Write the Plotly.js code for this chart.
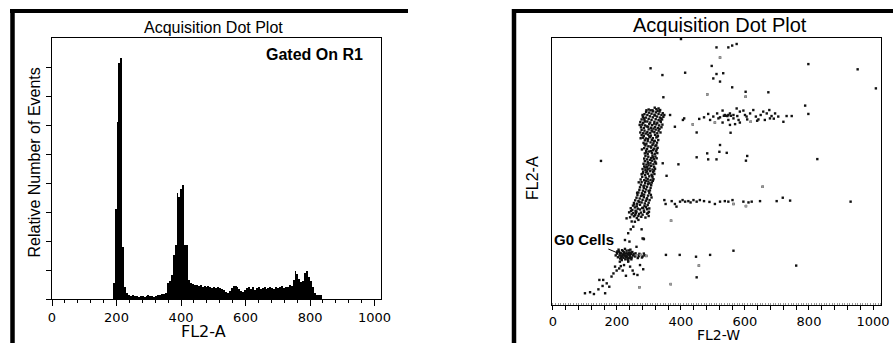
<!DOCTYPE html>
<html><head><meta charset="utf-8">
<script src="https://cdn.plot.ly/plotly-3.0.1.min.js"></script>
<style>html,body{margin:0;padding:0;background:#fff}#chart{width:893px;height:343px}</style>
</head><body><div id="chart"></div>
<script>
// ---------- Left panel: FL2-A histogram ----------
const binCenters = [191,197,203,209,215,221,227,233,239,245,251,257,263,269,275,281,287,293,299,305,
  311,317,323,329,335,341,347,353,359,365,371,377,383,389,395,401,407,413,419,425,
  431,437,443,449,455,461,467,473,479,485,491,497,503,509,515,521,527,533,539,545,
  551,557,563,569,575,581,587,593,599,605,611,617,623,629,635,641,647,653,659,665,
  671,677,683,689,695,701,707,713,719,725,731,737,743,749,755,761,767,773,779,785,
  791,797,803,809,815,821,827,833];
const binCounts = [55,310,611,814,831,179,41,21,14,10,14,10,10,7,10,10,7,10,14,10,
  10,7,10,14,14,17,17,21,55,62,83,152,186,366,352,380,393,186,186,66,
  55,52,48,48,45,48,41,45,41,45,41,38,41,38,41,38,35,31,24,21,
  28,38,45,45,41,35,28,24,31,38,41,35,41,31,38,41,35,38,41,35,
  38,41,38,35,41,38,41,45,38,41,41,48,45,66,97,86,69,59,62,90,
  97,76,62,41,21,14,14,14];
const histXTicks = [0,200,400,600,800,1000];
const histYTicks = [0,100,200,300,400,500,600,700,800];

// ---------- Right panel: FL2-W vs FL2-A dot plot ----------
const g0Cluster = [[196,190],[200,197],[203,183],[206,205],[208,190],[210,178],[212,198],[214,186],[216,210],[218,194],
  [220,181],[222,202],[224,189],[226,175],[228,197],[230,208],[232,185],[234,193],[236,179],[238,200],
  [240,188],[242,212],[244,195],[246,182],[248,203],[250,190],[205,212],[215,172],[225,215],[235,170],
  [245,175],[211,190],[221,193],[231,198],[241,180],[201,205],[219,206],[229,187],[239,194],[209,200],
  [227,183],[237,209],[213,181],[223,197],[233,176],[243,201],[217,188],[252,195],[256,186],[262,190],
  [268,187],[274,192],[280,186],[286,190],[292,188],[258,198],[270,196],[284,197],[265,180],[278,182]];
const cycleBand = [[241,336],[253,340],[262,333],[276,338],[289,335],[299,341],
  [246,347],[257,344],[269,349],[280,346],[294,350],
  [238,355],[251,352],[261,358],[275,354],[285,357],[297,353],
  [248,364],[258,361],[272,366],[284,362],[294,367],
  [243,371],[256,374],[265,369],[279,372],[291,375],[301,370],
  [250,381],[262,378],[272,384],[286,380],[296,383],
  [253,391],[263,388],[277,393],[287,389],[299,392],
  [257,401],[267,398],[280,403],[290,399],[302,402],
  [261,411],[271,408],[284,413],[294,409],
  [264,421],[275,418],[285,423],[297,419],[306,422],
  [267,431],[278,428],[288,433],[301,429],
  [270,441],[281,438],[291,443],[303,439],
  [272,451],[284,448],[294,453],[305,449],
  [275,461],[286,458],[297,463],[307,459],
  [277,471],[288,468],[298,473],[309,469],
  [274,481],[285,478],[296,483],[305,479],[314,482],
  [279,491],[290,488],[301,493],[311,489],
  [277,501],[288,498],[297,503],[308,499],[317,502],
  [282,511],[291,508],[304,513],[313,509],
  [280,521],[289,518],[302,523],[311,519],[319,522],
  [285,531],[294,528],[307,533],[316,529],
  [283,541],[292,538],[305,543],[314,539],[322,542],
  [287,551],[296,548],[309,553],[318,549],
  [285,561],[294,558],[307,563],[316,559],[324,562],
  [289,571],[298,568],[311,573],[320,569],
  [287,581],[296,578],[309,583],[318,579],[326,582],
  [291,591],[300,588],[313,593],[322,589],
  [285,601],[294,598],[307,603],[316,599],[327,602],
  [289,611],[298,608],[311,613],[320,609],
  [283,621],[292,618],[305,623],[314,619],[325,622],
  [287,631],[296,628],[309,633],[318,629],[329,632],
  [281,641],[290,638],[303,643],[312,639],[323,642],
  [277,651],[284,648],[297,653],[306,649],[319,652],[328,648],
  [273,661],[282,658],[295,663],[304,659],[317,662],[326,658],[336,661],
  [277,671],[286,668],[299,673],[308,669],[321,672],[330,668],
  [275,681],[284,678],[297,683],[306,679],[319,682],[328,678],[339,681],
  [279,691],[288,688],[301,693],[310,689],[323,692],[332,688],[342,691],
  [273,701],[282,698],[295,703],[304,699],[317,702],[326,698],[337,701],
  [277,711],[286,708],[299,713],[308,709],[321,712],[330,708],[341,711],
  [281,721],[290,718],[303,723],[312,719],[325,722],[334,718],[345,721],
  [286,731],[295,728],[308,733],[317,729],[330,732],[339,728],
  [291,740],[300,737],[313,742],[322,738],[333,741],
  [299,749],[311,746],[323,750],[335,747]];
const bandExtra = [[259,352],[267,341],[282,372],[270,395],[293,405],[279,420],[299,437],[283,455],[302,466],
  [291,476],[310,495],[294,512],[316,515],[299,535],[320,548],[303,556],[312,566],[292,585],[324,596],
  [305,607],[315,627],[297,636],[326,645],[290,657],[311,665],[333,675],[293,684],[316,695],[336,706],
  [284,715],[319,726],[343,735],[305,746],[327,744],[338,715],[288,703],[314,676],[301,646],[286,616],
  [306,590],[298,543],[288,527],[281,505],[312,476],[268,470],[263,430],[254,385],[244,360],[300,357],
  [308,412],[274,639],[271,690],[348,728],[330,753],[318,756],[292,746],[280,728],[323,612],[278,596],[296,520]];
const betweenPts = [[225,249],[235,275],[243,290],[251,300],[256,319],[267,326],[230,332],[246,320],
  [280,255],[277,290],[261,223],[239,243],[284,253]];
const lowDiagonal = [[100,45],[116,49],[128,42],[142,60],[163,45],[145,96],[157,96],[176,70],[183,109],
  [189,121],[199,132],[207,140],[212,149],[218,132],[228,112],[222,153],[241,147],[249,132],[253,119],
  [264,115],[270,68],[282,137],[272,153],[235,166],[209,166],[194,147],[168,83],[155,73]];
const upperRow = [[457,713],[472,719],[485,732],[501,722],[513,734],[522,719],[530,745],[537,728],[545,724],
  [553,734],[564,728],[574,753],[576,724],[584,741],[595,745],[600,728],[607,711],[616,734],[626,747],
  [634,722],[642,711],[649,728],[657,741],[668,734],[676,747],[683,724],[690,714],[704,722],[720,702],
  [730,724],[746,724],[506,699],[530,699],[553,690],[569,693],[584,699],[638,706],[662,709],[678,715],
  [491,709],[517,715],[548,709],[564,715],[605,722],[618,702],[580,709],[694,734],[534,725],[541,725],
  [548,728],[556,725],[437,692],[410,715],[381,683],[366,728],[406,709]];
const middleRow = [[348,402],[352,387],[371,398],[381,387],[386,377],[405,402],[413,396],[423,398],[430,393],
  [439,402],[449,396],[459,402],[472,398],[489,395],[506,387],[522,396],[537,398],[548,396],[561,402],
  [564,387],[595,396],[603,379],[611,393],[621,396],[647,398],[699,398],[718,411],[741,400],[930,396],[397,396]];
const scatteredPts = [[400,1019],[511,987],[548,987],[560,994],[574,1000],[522,948],[305,907],[342,881],
  [413,890],[496,916],[501,868],[511,885],[532,888],[522,856],[560,834],[602,817],[602,798],[482,807],
  [673,815],[798,923],[952,903],[1009,830],[788,764],[798,732],[345,796],[449,661],[555,660],[522,613],
  [520,587],[543,583],[449,566],[482,581],[485,558],[511,558],[607,571],[603,553],[826,559],[343,543],
  [392,539],[355,495],[150,552],[655,453],[369,323],[284,253],[353,192],[396,192],[447,185],[491,192],
  [564,208],[456,151],[449,106],[368,80],[760,151]];
const greyPts = [[522,948],[482,807],[602,798],[655,453],[369,323],[456,151],[368,80],[603,379],[564,387],
  [506,699],[618,702],[437,692],[270,68],[262,190],[292,188],[274,192]];

const dotW = [].concat(g0Cluster, cycleBand, bandExtra, betweenPts, lowDiagonal, upperRow, middleRow, scatteredPts);
const dotXTicks = [0,40,80,120,160,200,240,280,320,360,400,440,480,520,560,600,640,680,720,760,800,840,880,920,960,1000];
const dotXLabels = dotXTicks.map(v => (v % 200 === 0 ? String(v) : ''));

// ---------- pixel helpers for layout placement ----------
const W = 893, H = 343;
const px = v => v / W;
const py = v => 1 - v / H;

const traces = [
  {type:'bar', x:binCenters, y:binCounts, width:6, xaxis:'x', yaxis:'y',
   marker:{color:'#000', line:{width:0}}, hoverinfo:'x+y'},
  {type:'scatter', mode:'markers', x:dotW.map(p=>p[0]), y:dotW.map(p=>p[1]), xaxis:'x2', yaxis:'y2',
   marker:{symbol:'square', size:2.4, color:'#111'}},
  {type:'scatter', mode:'markers', x:greyPts.map(p=>p[0]), y:greyPts.map(p=>p[1]), xaxis:'x2', yaxis:'y2',
   marker:{symbol:'square', size:2.4, color:'#9a9a9a'}}
];

const tickFont = {family:'DejaVu Sans, sans-serif', size:13, color:'#000'};
const layout = {
  width:W, height:H, margin:{l:0,r:0,t:0,b:0}, showlegend:false,
  paper_bgcolor:'#fff', plot_bgcolor:'#fff', bargap:0,
  xaxis:{domain:[px(52), px(381)], range:[0,1020], anchor:'y',
    showline:true, linecolor:'#000', linewidth:1, mirror:true, showgrid:false, zeroline:false,
    ticks:'outside', ticklen:6, tickcolor:'#000', tickwidth:1,
    tickmode:'array', tickvals:histXTicks, ticktext:histXTicks.map(String), tickfont:tickFont,
    minor:{tickmode:'linear', tick0:0, dtick:40, ticks:'outside', ticklen:3, tickcolor:'#000', showgrid:false}},
  yaxis:{domain:[py(299), py(38)], range:[0,900], anchor:'x',
    showline:true, linecolor:'#000', linewidth:1, mirror:true, showgrid:false, zeroline:false,
    ticks:'outside', ticklen:5, tickcolor:'#000', tickmode:'array', tickvals:histYTicks, showticklabels:false},
  xaxis2:{domain:[px(552), px(881)], range:[-3,1025], anchor:'y2',
    showline:true, linecolor:'#000', linewidth:1.3, mirror:true, showgrid:false, zeroline:false,
    ticks:'outside', ticklen:4, tickcolor:'#000', tickwidth:1,
    tickmode:'array', tickvals:dotXTicks, ticktext:dotXLabels,
    tickfont:{family:'DejaVu Sans, sans-serif', size:13, color:'#000'},
    minor:{tickmode:'linear', tick0:0, dtick:8, ticks:'inside', ticklen:2, tickcolor:'#999', showgrid:false}},
  yaxis2:{domain:[py(305), py(38)], range:[0,1023], anchor:'x2',
    showline:true, linecolor:'#000', linewidth:1.3, mirror:true, showgrid:false, zeroline:false,
    ticks:'', showticklabels:false},
  shapes:[
    {type:'line', xref:'paper', yref:'paper', x0:px(12.5), x1:px(12.5), y0:0, y1:py(9), line:{color:'#000', width:4.5}},
    {type:'line', xref:'paper', yref:'paper', x0:px(10), x1:px(408), y0:py(11), y1:py(11), line:{color:'#000', width:4}},
    {type:'line', xref:'paper', yref:'paper', x0:px(514), x1:px(514), y0:0, y1:py(9), line:{color:'#000', width:4.5}},
    {type:'line', xref:'paper', yref:'paper', x0:px(512), x1:1, y0:py(11), y1:py(11), line:{color:'#000', width:4}}
  ],
  annotations:[
    {text:'Acquisition Dot Plot', xref:'paper', yref:'paper', x:px(213), y:py(27.5), xanchor:'center', yanchor:'middle',
     showarrow:false, font:{family:'Liberation Sans, Arial, sans-serif', size:16, color:'#000'}},
    {text:'<b>Gated On R1</b>', xref:'paper', yref:'paper', x:px(314.5), y:py(55), xanchor:'center', yanchor:'middle',
     showarrow:false, font:{family:'Liberation Sans, Arial, sans-serif', size:16, color:'#000'}},
    {text:'Relative Number of Events', xref:'paper', yref:'paper', x:px(34), y:py(162.5), xanchor:'center', yanchor:'middle',
     textangle:-90, showarrow:false, font:{family:'Liberation Sans, Arial, sans-serif', size:16, color:'#000'}},
    {text:'FL2-A', xref:'paper', yref:'paper', x:px(203.5), y:py(331), xanchor:'center', yanchor:'middle',
     showarrow:false, font:{family:'DejaVu Sans, sans-serif', size:16, color:'#000'}},
    {text:'Acquisition Dot Plot', xref:'paper', yref:'paper', x:px(719.5), y:py(25.5), xanchor:'center', yanchor:'middle',
     showarrow:false, font:{family:'Liberation Sans, Arial, sans-serif', size:20, color:'#000'}},
    {text:'FL2-A', xref:'paper', yref:'paper', x:px(532.5), y:py(178.5), xanchor:'center', yanchor:'middle',
     textangle:-90, showarrow:false, font:{family:'Liberation Sans, Arial, sans-serif', size:16, color:'#000'}},
    {text:'FL2-W', xref:'paper', yref:'paper', x:px(718), y:py(335), xanchor:'center', yanchor:'middle',
     showarrow:false, font:{family:'DejaVu Sans, sans-serif', size:14, color:'#000'}},
    {text:'<b>G0 Cells</b>', xref:'x2', yref:'y2', x:203, y:199, ax:-33.5, ay:-14,
     showarrow:true, arrowhead:0, arrowwidth:1, arrowcolor:'#000', standoff:0,
     font:{family:'Liberation Sans, Arial, sans-serif', size:15, color:'#000'}}
  ]
};

Plotly.newPlot('chart', traces, layout, {staticPlot:true, displayModeBar:false});
</script></body></html>
